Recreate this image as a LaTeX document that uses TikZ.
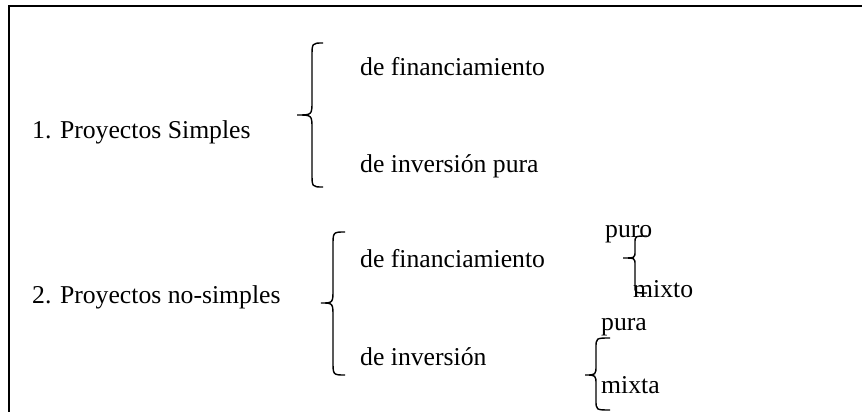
\documentclass[tikz,border=0pt]{standalone}
\usepackage{fontspec}
\setmainfont{Liberation Serif}
\newfontfamily\tnr{Liberation Serif}
\begin{document}
\begin{tikzpicture}[x=1pt,y=-1pt,
  txt/.style={anchor=base west,inner sep=0pt,font=\tnr\fontsize{25.7}{30}\selectfont},
  brc/.style={line width=1.4pt},
  frm/.style={line width=2pt}]
\useasboundingbox (0,0) rectangle (862,412);
% frame (top and left only)
\coordinate (fa) at (862,6.5);
\coordinate (fb) at (9,6.5);
\coordinate (fc) at (9,412);
\draw[frm] (fa) -- (fb) -- (fc);
% texts
\node[txt] (p1)  at (32,138) {1. Proyectos Simples};
\node[txt] (f1)  at (360,75) {de financiamiento};
\node[txt] (i1)  at (360,172) {de inversión pura};
\node[txt] (p2)  at (32,303) {2. Proyectos no-simples};
\node[txt] (f2)  at (360,267) {de financiamiento};
\node[txt] (i2)  at (360,365) {de inversión};
\node[txt] (puro)  at (605,237) {puro};
\node[txt] (mixto) at (633,297) {mixto};
\node[txt] (pura)  at (601,330) {pura};
\node[txt] (mixta) at (601,393) {mixta};
% braces: top tip (xt,yt), bottom tip y, vertical x, middle tip (xm,ym)
\newcommand{\mybrace}[7]{% #1 xt, #2 yt, #3 yb, #4 xv, #5 xm, #6 ym, #7 r
  \draw[brc] (#1,#2) .. controls (#4,#2) .. (#4,#2+#7) -- (#4,#6-#7)
    .. controls (#4,#6) .. (#5,#6) .. controls (#4,#6) .. (#4,#6+#7)
    -- (#4,#3-#7) .. controls (#4,#3) .. (#1,#3);}
\mybrace{323}{43}{187}{312}{297}{115}{14}
\mybrace{345}{232}{375}{333}{321}{303}{14}
\mybrace{647}{236}{293}{635}{623}{258}{7}
\mybrace{610}{338}{410}{596}{585}{375}{10}
\end{tikzpicture}
\end{document}
